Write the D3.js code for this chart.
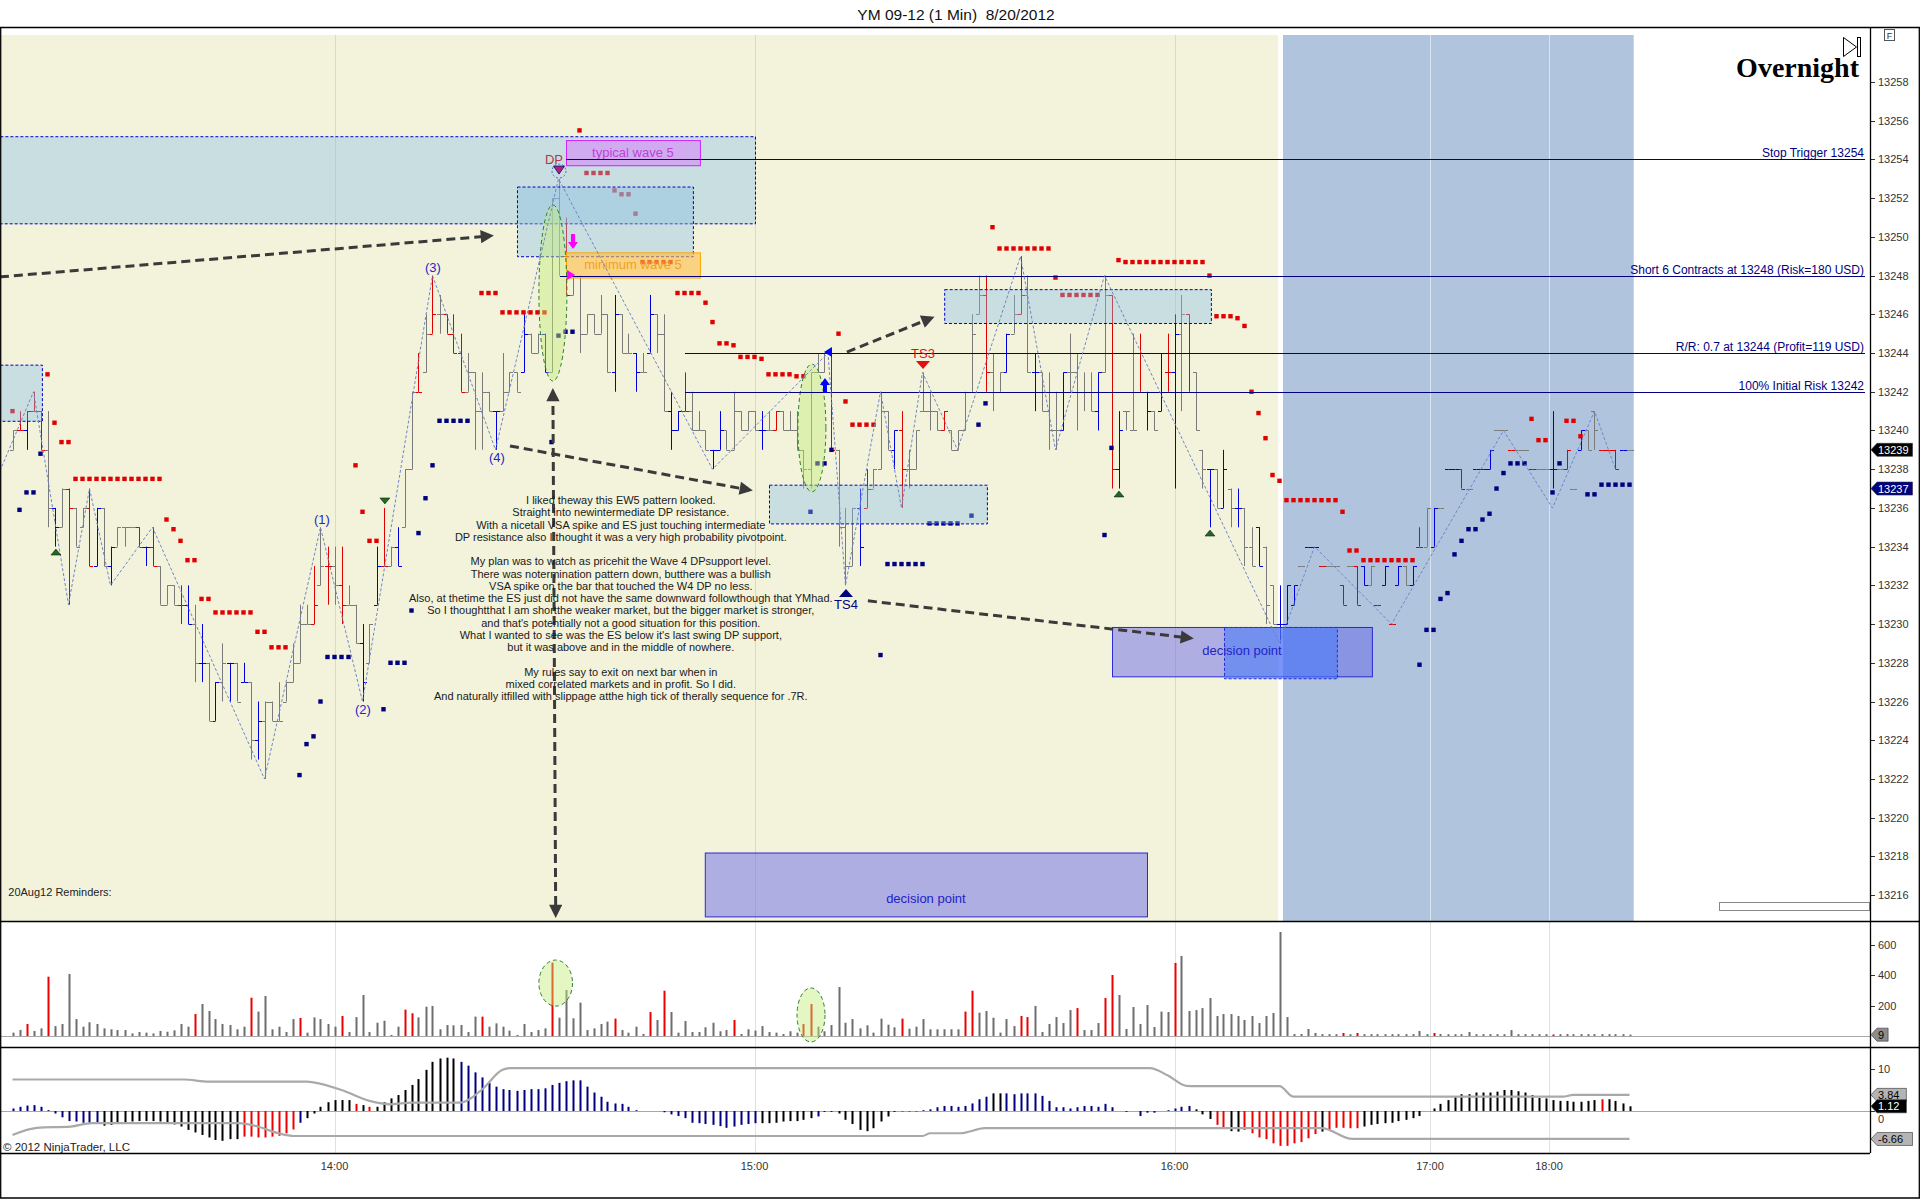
<!DOCTYPE html>
<html><head><meta charset="utf-8"><title>YM 09-12 (1 Min)</title>
<script src="https://cdn.jsdelivr.net/npm/d3@7/dist/d3.min.js"></script>
<style>html,body{margin:0;padding:0;background:#fff}svg{display:block}text{font-family:Arial,"Liberation Sans",sans-serif}</style>
</head><body><svg id="chart" width="1920" height="1199"></svg>
<script>
// ---------------- DATA ----------------
const chartTitle = "YM 09-12 (1 Min)  8/20/2012";
const barStart = -46; // bar index of first bar (0 = 14:00)
const barOpen = [
13239,13240,13240,13241,13241,13239,13236,13235,13237,13236,
13235,13236,13233,13236,13233,13234,13235,13235,13235,13234,
13234,13233,13231,13232,13231,13231,13230,13228,13228,13225,
13227,13228,13228,13227,13227,13224,13225,13226,13225,13226,
13227,13228,13230,13230,13232,13233,13233,13232,13231,13231,
13229,13228,13231,13233,13233,13234,13235,13238,13242,13243,
13245,13246,13246,13245,13244,13242,13243,13241,13242,13241,
13241,13242,13243,13243,13245,13244,13245,13243,13252,13249,
13247,13248,13245,13246,13245,13246,13243,13246,13244,13244,
13243,13244,13246,13245,13241,13240,13241,13241,13240,13240,
13239,13239,13240,13239,13241,13240,13241,13240,13240,13240,
13241,13240,13240,13239,13238,13243,13243,13244,13239,13235,
13233,13236,13236,13237,13238,13241,13239,13240,13238,13238,
13241,13241,13241,13240,13240,13239,13240,13242,13246,13247,
13243,13242,13243,13245,13246,13247,13243,13243,13241,13240,
13240,13243,13243,13242,13242,13241,13243,13247,13238,13241,
13240,13242,13242,13241,13241,13243,13243,13245,13246,13243,
13239,13238,13238,13236,13237,13236,13236,13234,13235,13234,
13232,13230,13230,13231,13233,13234,13234,13233,13233,13233,
13232,13233,13233,13233,13232,13231,13232,13230,13232,13233,
13232,13234,13234,13234,13236,13238,13238,13238,13237,13238,
13238,13238,13240,13240,13239,13239,13239,13238,13238,13238,
13238,13238,13238,13237,13239,13240,13241,13239,13239,13239,
13239,13239];
const barHigh = [
13240,13241,13241,13242,13241,13241,13236,13237,13237,13236,
13236,13237,13236,13236,13234,13235,13235,13235,13235,13234,
13235,13233,13232,13232,13232,13232,13231,13230,13228,13227,
13229,13228,13228,13228,13227,13226,13226,13226,13227,13227,
13229,13231,13231,13233,13235,13234,13234,13234,13232,13231,
13230,13230,13234,13236,13234,13235,13238,13242,13244,13246,
13248,13247,13246,13246,13245,13244,13243,13243,13242,13241,
13244,13243,13243,13246,13245,13245,13245,13252,13253,13251,
13248,13248,13246,13246,13247,13246,13247,13246,13245,13244,
13244,13247,13246,13246,13242,13241,13243,13242,13241,13240,
13239,13241,13240,13242,13241,13241,13241,13241,13241,13241,
13241,13241,13241,13239,13243,13244,13244,13244,13239,13236,
13236,13237,13238,13238,13242,13241,13240,13241,13239,13240,
13243,13242,13241,13241,13240,13240,13242,13246,13248,13248,
13244,13243,13245,13247,13249,13248,13244,13243,13243,13242,
13243,13245,13244,13243,13243,13243,13248,13247,13241,13241,
13245,13245,13242,13241,13244,13245,13246,13247,13246,13243,
13239,13238,13238,13239,13237,13237,13236,13235,13235,13234,
13232,13232,13232,13232,13233,13234,13234,13233,13233,13233,
13232,13233,13233,13233,13233,13231,13233,13230,13233,13233,
13233,13235,13236,13236,13236,13238,13238,13238,13237,13238,
13238,13239,13240,13240,13239,13239,13239,13238,13238,13238,
13241,13238,13239,13237,13240,13240,13241,13239,13239,13239,
13239,13239];
const barLow = [
13239,13240,13239,13241,13239,13235,13234,13235,13231,13234,
13235,13233,13233,13233,13232,13234,13234,13235,13234,13233,
13233,13231,13231,13231,13230,13230,13227,13227,13225,13225,
13226,13226,13226,13227,13223,13223,13222,13225,13225,13226,
13227,13228,13230,13230,13232,13231,13231,13230,13231,13229,
13226,13228,13231,13233,13233,13233,13235,13238,13242,13243,
13245,13245,13245,13244,13242,13242,13239,13239,13241,13239,
13241,13242,13242,13243,13244,13244,13243,13243,13248,13247,
13247,13244,13245,13245,13245,13243,13242,13244,13244,13242,
13243,13244,13244,13241,13239,13240,13241,13240,13240,13239,
13238,13239,13239,13239,13240,13240,13240,13239,13240,13240,
13240,13240,13239,13237,13237,13243,13243,13239,13234,13232,
13233,13233,13236,13237,13238,13239,13238,13236,13237,13238,
13241,13240,13240,13240,13239,13239,13240,13242,13246,13242,
13241,13242,13243,13245,13246,13243,13241,13241,13239,13239,
13240,13242,13240,13241,13241,13240,13243,13237,13237,13240,
13240,13242,13240,13240,13241,13242,13237,13241,13242,13240,
13237,13235,13236,13236,13235,13235,13233,13233,13233,13230,
13230,13229,13230,13231,13233,13234,13234,13233,13233,13233,
13231,13233,13231,13232,13232,13231,13232,13230,13232,13232,
13232,13234,13234,13234,13236,13238,13238,13237,13237,13238,
13238,13238,13240,13240,13239,13239,13239,13238,13238,13238,
13237,13238,13238,13237,13239,13239,13239,13239,13239,13238,
13239,13239];
const barClose = [
13240,13240,13241,13241,13239,13236,13235,13237,13236,13234,
13236,13233,13236,13233,13234,13235,13235,13235,13234,13234,
13233,13231,13232,13231,13231,13230,13228,13228,13225,13227,
13228,13228,13226,13227,13224,13225,13226,13225,13225,13227,
13228,13230,13230,13231,13233,13233,13232,13231,13231,13229,
13227,13230,13233,13233,13234,13233,13238,13242,13242,13245,
13246,13246,13245,13244,13242,13243,13241,13242,13241,13241,
13242,13243,13242,13245,13244,13245,13243,13252,13249,13247,
13248,13245,13246,13245,13246,13243,13246,13244,13244,13243,
13243,13246,13245,13241,13240,13241,13241,13240,13240,13239,
13239,13240,13239,13241,13240,13241,13240,13240,13240,13241,
13240,13240,13239,13238,13243,13243,13244,13239,13235,13233,
13236,13234,13237,13238,13241,13239,13240,13238,13238,13240,
13241,13241,13240,13241,13239,13240,13242,13245,13247,13243,
13242,13243,13245,13246,13247,13243,13243,13241,13240,13240,
13243,13243,13242,13242,13241,13243,13247,13238,13240,13241,
13240,13242,13241,13240,13242,13243,13245,13246,13242,13240,
13238,13238,13236,13238,13236,13236,13234,13233,13233,13231,
13230,13230,13232,13232,13233,13234,13234,13233,13233,13233,
13231,13233,13231,13232,13233,13231,13233,13230,13233,13232,
13233,13234,13236,13236,13236,13238,13238,13237,13237,13238,
13238,13239,13240,13240,13239,13239,13239,13238,13238,13238,
13238,13238,13239,13237,13240,13239,13240,13239,13239,13238,
13239,13239];
const barColor = ("g r b r r g b g r g g r b g b g g g r b r g g g r b g b g b " +
 "g b g b g b g g g g g g g r g r g r g g b g b r g b g g r g " +
 "r g r r r g g g g b g g g b g g b g g r g g g g g g b g g b " +
 "g b g g b b r g g g b b g g g g g b g r g g g g g g g r g g " +
 "g b r g g g b r g g g g g r g g g g g r g g b g r g b g g g " +
 "b g g g g b g r b g g r b g b r b g r g g b g b g b g g b g " +
 "g b b b g b b r g g r g r b g r b r b g b r g b g b b r g b " +
 "b b g g r g g r g g b g r g b g g r r r b g").split(" ");
const volume = [
22,40,79,33,50,389,65,79,407,111,
61,90,79,50,44,39,39,17,26,22,
17,33,28,37,79,61,144,210,164,111,
79,72,44,61,251,160,262,44,61,26,
111,118,22,122,111,79,61,131,26,124,
269,26,87,100,7,61,173,149,122,192,
197,44,72,70,72,26,127,127,61,83,
61,35,7,79,26,39,50,481,120,302,
116,219,39,50,79,94,114,39,22,61,
13,157,105,297,157,22,98,26,26,57,
87,31,39,105,13,44,35,65,26,22,
13,31,22,79,210,61,31,72,321,87,
111,50,70,22,114,74,57,114,48,61,
111,44,44,44,44,44,160,297,153,164,
120,22,111,65,131,124,197,26,79,124,
85,170,183,39,39,85,249,400,269,46,
190,79,203,59,160,157,479,525,164,170,
183,249,131,144,144,131,105,131,85,131,
151,682,124,13,13,46,20,12,12,12,
20,12,20,12,12,12,12,12,12,12,
12,33,12,20,13,12,12,12,26,12,
12,12,12,12,39,12,12,12,12,12,
10,12,13,12,12,12,12,12,12,12,
12,9];
const volumeRedIdx = [-44,-41,-20,-12,-5,1,10,11,21,31,40,45,47,57,67,68,81,90,91,98,99,106,110,111,120,144,146,157,174];
const oscValue = [
0.6,1.0,1.3,1.4,1.0,0.2,-0.6,-1.5,-2.4,-2.5,
-2.8,-2.8,-2.8,-3.5,-3.3,-2.9,-2.7,-2.5,-2.4,-2.4,
-2.4,-2.5,-2.9,-3.2,-3.7,-4.5,-5.1,-5.7,-6.3,-6.9,
-7.1,-6.7,-6.7,-6.1,-6.1,-6.3,-6.3,-6.1,-5.9,-5.3,
-4.4,-2.8,-1.7,-0.6,1.0,2.1,2.6,2.6,2.6,1.7,
1.4,1.0,1.0,2.1,3.0,3.8,5.0,6.2,7.6,9.8,
11.7,12.5,12.7,12.5,11.7,10.8,9.2,8.0,6.7,5.8,
5.2,5.0,4.8,5.0,5.2,5.2,5.4,6.2,6.7,7.1,
7.3,7.3,5.8,4.4,3.4,2.2,1.8,1.7,1.0,0.2,
0,0,0,-0.3,-0.8,-1.2,-1.7,-2.8,-2.9,-3.1,
-3.3,-3.6,-4.0,-3.7,-3.3,-3.1,-2.9,-2.9,-2.9,-2.8,
-2.5,-2.4,-2.4,-2.1,-1.7,-1.3,-0.2,-0.2,-0.6,-2.1,
-3.1,-4.5,-4.8,-4.1,-2.5,-1.3,-0.2,-0.1,-0.1,-0.1,
0.2,0.4,0.9,1.2,1.2,1.0,1.2,1.8,2.8,3.4,
4.2,4.2,4.2,4.0,4.2,4.2,4.2,3.6,2.4,0.9,
0.9,0.6,0.9,1.2,1.2,1.0,1.7,0.9,0,-0.2,
0,-1.2,-0.4,-0.4,0,0.2,0.6,1.0,1.2,0.4,
-0.8,-1.9,-3.3,-4.1,-4.8,-4.9,-4.5,-5.3,-6.3,-6.7,
-7.7,-8.3,-8.3,-7.7,-7.4,-6.5,-5.5,-4.9,-4.4,-4.0,
-4.0,-4.1,-4.1,-3.7,-3.3,-3.1,-2.9,-2.8,-2.4,-2.1,
-1.7,-1.2,0,0.6,1.7,2.6,3.4,4.0,4.0,4.4,
4.4,4.4,4.6,5.0,5.0,4.7,4.4,3.8,3.1,3.0,
2.6,2.4,2.4,2.2,2.2,2.4,2.6,2.8,2.8,2.4,
1.8,1.12];
const oscColorRuns = [[-46,-42,'b'],[-41,-41,'k'],[-40,-34,'b'],[-33,-14,'k'],[-13,-6,'r'],[-5,-5,'b'],[-4,2,'k'],[3,3,'r'],[4,4,'k'],[5,5,'r'],[6,17,'k'],[18,60,'b'],[61,68,'k'],[69,69,'b'],[70,83,'k'],[84,93,'b'],[94,95,'k'],[96,122,'b'],[123,125,'k'],[126,127,'r'],[128,129,'k'],[130,140,'r'],[141,141,'k'],[142,146,'r'],[147,180,'k'],[181,181,'r'],[182,185,'k']];
const bandUpper = [[-46,7.5],[-21.5,7.5],[-18,7.0],[-4,7.0],[1,5.0],[5,2.4],[8,1.6],[11,2.0],[18,2.0],[21,5.0],[24,9.8],[25,10.2],[116.5,10.2],[119,8.5],[121.7,6.0],[123,5.9],[135,5.9],[137,3.4],[175.5,3.4],[177,3.84],[185,3.84]];
const bandLower = [[-46,-5.7],[-42.5,-4.0],[-37.7,-3.7],[-34.7,-2.9],[-13.7,-2.9],[-11,-3.7],[-8,-5.3],[-5.8,-5.95],[84,-5.95],[85.1,-5.3],[89.4,-5.3],[92.9,-4.1],[141,-4.1],[145.4,-6.66],[185,-6.66]];
const timeTickIdx = [0,60,120,156.5,173.5];
const timeTickLbl = ["14:00","15:00","16:00","17:00","18:00"];
const priceTicks = [13216,13218,13220,13222,13224,13226,13228,13230,13232,13234,13236,13238,13240,13242,13244,13246,13248,13250,13252,13254,13256,13258];
const volTicks = [200,400,600];
const oscTicks = [0,10];
const sessionDay = [-47.8,134.8];
const sessionNight = [135.5,185.6];
const zigzag = [[-47.8,13237.9],[-43,13242],[-38,13231],[-35,13237],[-32,13232],[-26,13235],[-10,13222],[-2,13235],[4,13226],[14,13248],[23,13239],[32,13253],[54,13238],[70.5,13244],[73,13232],[78,13242],[81,13236],[84,13243],[89,13239],[98,13249],[103,13239],[110,13248],[135,13229],[140,13234],[151,13230],[167,13240],[174,13236],[180,13241],[183,13238]];
const redDotRuns = [[-46,-46,13241.0],[-41,-41,13242.9],[-40,-40,13240.4],[-39,-38,13239.4],[-37,-25,13237.5],[-24,-24,13235.4],[-23,-23,13234.9],[-22,-22,13234.3],[-21,-20,13233.3],[-19,-18,13231.3],[-17,-12,13230.6],[-11,-10,13229.6],[-9,-7,13228.8],[3,3,13238.2],[4,4,13235.8],[5,6,13234.3],[21,23,13247.1],[24,30,13246.1],[35,35,13255.5],[36,39,13253.3],[40,40,13252.4],[41,42,13252.2],[43,43,13251.2],[44,48,13248.7],[49,52,13247.1],[53,53,13246.6],[54,54,13245.6],[55,56,13244.5],[57,57,13244.4],[58,60,13243.8],[61,61,13243.7],[62,65,13242.9],[66,67,13242.8],[72,72,13245.0],[73,73,13241.5],[74,77,13240.3],[94,94,13250.5],[95,102,13249.4],[103,103,13247.9],[104,109,13247.0],[112,112,13248.8],[113,124,13248.7],[125,125,13248.0],[126,128,13245.9],[129,129,13245.8],[130,130,13245.4],[131,131,13242.0],[132,132,13240.9],[133,133,13239.6],[134,134,13237.7],[135,135,13237.4],[136,143,13236.4],[144,144,13235.8],[145,146,13233.8],[147,154,13233.3],[171,171,13240.6],[172,173,13239.5],[176,177,13240.5],[178,178,13239.7]];
const navyDotRuns = [[-45,-45,13235.9],[-44,-43,13236.8],[-42,-42,13238.8],[-5,-5,13222.2],[-4,-4,13223.8],[-3,-3,13224.2],[-2,-2,13226.0],[-1,2,13228.3],[7,7,13225.6],[8,10,13228.0],[11,11,13230.7],[12,12,13234.7],[13,13,13236.5],[14,14,13238.2],[15,19,13240.5],[31,31,13239.4],[32,32,13244.9],[33,34,13245.1],[68,68,13235.8],[69,70,13238.3],[71,71,13239.0],[78,78,13228.4],[79,84,13233.1],[85,89,13235.2],[91,91,13235.6],[92,92,13240.3],[93,93,13241.4],[110,110,13234.6],[111,111,13239.1],[155,155,13227.9],[156,157,13229.7],[158,158,13231.3],[159,159,13231.6],[160,160,13233.6],[161,161,13234.3],[162,163,13234.9],[164,164,13235.4],[165,165,13235.7],[166,166,13237.0],[167,167,13237.8],[168,170,13238.3],[174,174,13236.8],[175,175,13238.3],[179,180,13236.7],[181,185,13237.2]];
// drawn objects, in (bar index, price) coordinates
const lightZones = [[-47.8,60.07,13255.2,13250.7],[26.07,51.2,13252.6,13249.0],[-47.8,-41.8,13243.4,13240.5],[62.07,93.2,13237.2,13235.2],[87.1,125.2,13247.3,13245.55]];
const waveBoxes = [{i1:33.07,i2:52.2,p1:13255.0,p2:13253.7,text:"typical wave 5",kind:"typical"},{i1:33.07,i2:52.2,p1:13249.2,p2:13247.9,text:"minimum wave 5",kind:"minimum"}];
const decisionZones = [{i1:52.9,i2:116.07,p1:13218.2,p2:13214.9,textP:13215.8,text:"decision point"},{i1:111.07,i2:148.2,p1:13229.85,p2:13227.3,textP:13228.66,text:"decision point"}];
const decisionDashed = [127.07,143.2,13229.85,13227.2];
const levelLines = [{p:13254,i1:33.07,text:"Stop Trigger 13254"},{p:13248,i1:32.2,text:"Short 6 Contracts at 13248 (Risk=180 USD)"},{p:13244,i1:50.07,text:"R/R: 0.7 at 13244 (Profit=119 USD)"},{p:13242,i1:50.07,text:"100% Initial Risk 13242"}];
const dashArrows = [[[-47.8,13247.93],[22.2,13250.05]],[[25.07,13239.2],[59.2,13236.93]],[[73.2,13244.05],[85.2,13245.8]],[[76.2,13231.2],[122.2,13229.28]]];
const doubleArrows = [[[31.2,13241.99],[31.6,13215.02]]];
const priceEllipses = [[31.2,13247.1,2.0,4.55],[68.2,13240.13,2.0,3.3]];
const volumeEllipses = [[31.6,347,2.4,151],[68.07,138,2.0,177]];
const waveLabels = [["(1)",-1.8,13235.4],["(2)",4.07,13225.6],["(3)",14.07,13248.4],["(4)",23.2,13238.6]];
const tsMarkers = [{text:"TS3",i:84.07,p:13243.38,dir:"down"},{text:"TS4",i:73.07,p:13231.6,dir:"up"}];
const dpMarker = {text:"DP",i:32.07,p:13253.45};
const swingTriangles = [[7.2,13236.36,"down"],[-39.8,13233.72,"up"],[112.07,13236.72,"up"],[125.07,13234.7,"up"]];
const tradeArrows = [[34.07,13249.74,"down","entry"],[33.8,13248.03,"right","entry"],[70.07,13242.35,"up","exit"],[70.5,13244.05,"left","exit"]];
const priceTags = [[13239,"last"],[13237,"stop"]];
const volumeTags = [[9,"vol"]];
const oscTags = [[3.84,"band"],[1.12,"last"],[-6.66,"band"]];
const reminderLabel = {text:"20Aug12 Reminders:",i:-46.6,p:13215.95};
const commentAnchor = [40.9,13236.2];
const commentLines = [
"I liked theway this EW5 pattern looked.",
"Straight into newintermediate DP resistance.",
"With a nicetall VSA spike and ES just touching intermediate",
"DP resistance also I thought it was a very high probability pivotpoint.",
"",
"My plan was to watch as pricehit the Wave 4 DPsupport level.",
"There was notermination pattern down, butthere was a bullish",
"VSA spike on the bar that touched the W4 DP no less.",
"Also, at thetime the ES just did not have the same downward followthough that YMhad.",
"So I thoughtthat I am shortthe weaker market, but the bigger market is stronger,",
"and that's potentially not a good situation for this position.",
"What I wanted to see was the ES below it's last swing DP support,",
"but it was above and in the middle of nowhere.",
"",
"My rules say to exit on next bar when in",
"mixed correlated markets and in profit. So I did.",
"And naturally itfilled with slippage atthe high tick of therally sequence for .7R."];
const sessionLabel = "Overnight";
const copyright = "\u00A9 2012 NinjaTrader, LLC";

// ---------------- LAYOUT ----------------
const AXX = 1870, PT = 27, PY0 = 35, PB = 921, VB = 1047, IB = 1153;
const svg = d3.select('#chart');
const x = d3.scaleLinear().domain([-46,185]).range([12.5,1629.5]);
const yP = d3.scaleLinear().domain([13216,13258]).range([895.1,82]);
const yV = d3.scaleLinear().domain([0,600]).range([1036,944.5]);
const yI = d3.scaleLinear().domain([-10,10]).range([1153,1069]);
const px = i => Math.round(x(i)) + 0.5;
const py = p => Math.round(yP(p)) + 0.5;
const BAR = {g:'#7a7a7a', r:'#e00000', b:'#0000dd'};
const OSC = {b:'#000080', k:'#000000', r:'#ee0000'};
const expand = runs => runs.flatMap(([s,e,v]) => d3.range(s, e + 1).map(i => [i, v]));

svg.append('rect').attr('width',1920).attr('height',1199).attr('fill','#fff');
svg.append('text').attr('x',956).attr('y',20).attr('text-anchor','middle').attr('font-size',15.5).attr('fill','#111').style('white-space','pre').text(chartTitle);

const defs = svg.append('defs');
defs.append('clipPath').attr('id','clipP').append('rect').attr('x',1).attr('y',PT+1).attr('width',AXX-1).attr('height',PB-PT-1);
defs.append('clipPath').attr('id','clipV').append('rect').attr('x',1).attr('y',PB+1).attr('width',AXX-1).attr('height',VB-PB-1);
defs.append('clipPath').attr('id','clipI').append('rect').attr('x',1).attr('y',VB+1).attr('width',AXX-1).attr('height',IB-VB-1);
defs.append('marker').attr('id','ah').attr('viewBox','0 0 10 10').attr('refX',7).attr('refY',5)
  .attr('markerWidth',5.5).attr('markerHeight',4.4).attr('orient','auto-start-reverse')
  .append('path').attr('d','M0,0L10,5L0,10z').attr('fill','#3a3a3a');

// ---------------- PRICE PANEL ----------------
const gp = svg.append('g').attr('clip-path','url(#clipP)');
gp.append('rect').attr('x',x(sessionDay[0])).attr('y',PY0).attr('width',x(sessionDay[1])-x(sessionDay[0])).attr('height',PB-PY0).attr('fill','#f3f3dc');
gp.append('rect').attr('x',x(sessionNight[0])).attr('y',PY0).attr('width',x(sessionNight[1])-x(sessionNight[0])).attr('height',PB-PY0).attr('fill','#b0c4de');
timeTickIdx.forEach(t => {
  gp.append('line').attr('x1',px(t)).attr('x2',px(t)).attr('y1',PY0).attr('y2',PB)
    .attr('stroke', t > sessionDay[1] ? '#dbe3ee' : '#d9d9cf').attr('stroke-width',1);
});

// price bars (OHLC)
const bars = barOpen.map((o,k) => ({i:barStart+k,o,h:barHigh[k],l:barLow[k],c:barClose[k],col:barColor[k]}));
const gb = gp.append('g').attr('stroke-width',1);
gb.selectAll('line.v').data(bars.filter(d => d.h > d.l)).join('line').attr('class','v')
  .attr('x1',d=>px(d.i)).attr('x2',d=>px(d.i)).attr('y1',d=>yP(d.h)).attr('y2',d=>yP(d.l)).attr('stroke',d=>BAR[d.col]);
gb.selectAll('line.o').data(bars).join('line').attr('class','o')
  .attr('x1',d=>px(d.i)-3.5).attr('x2',d=>px(d.i)).attr('y1',d=>py(d.o)).attr('y2',d=>py(d.o)).attr('stroke',d=>BAR[d.col]);
gb.selectAll('line.c').data(bars).join('line').attr('class','c')
  .attr('x1',d=>px(d.i)).attr('x2',d=>px(d.i)+3.5).attr('y1',d=>py(d.c)).attr('y2',d=>py(d.c)).attr('stroke',d=>BAR[d.col]);

// dot series
gp.append('g').selectAll('rect').data(expand(redDotRuns)).join('rect')
  .attr('x',d=>x(d[0])-2.2).attr('y',d=>yP(d[1])-2.2).attr('width',4.4).attr('height',4.4).attr('fill','#e00000');
gp.append('g').selectAll('rect').data(expand(navyDotRuns)).join('rect')
  .attr('x',d=>x(d[0])-2.2).attr('y',d=>yP(d[1])-2.2).attr('width',4.4).attr('height',4.4).attr('fill','#000080');

// light blue zones
lightZones.forEach(([i1,i2,p1,p2]) => {
  gp.append('rect').attr('x',x(i1)+0.5).attr('y',yP(p1)+0.5).attr('width',x(i2)-x(i1)).attr('height',yP(p2)-yP(p1))
    .attr('fill','rgba(135,190,230,0.4)').attr('stroke','#0000cc').attr('stroke-dasharray','3,2').attr('stroke-width',1);
});
// wave target boxes
waveBoxes.forEach(b => {
  const st = b.kind === 'typical' ? {f:'rgba(215,120,255,0.5)',s:'#cc22ff',t:'#c040d8'} : {f:'rgba(255,190,70,0.6)',s:'#ffa500',t:'#f0a028'};
  gp.append('rect').attr('x',x(b.i1)+0.5).attr('y',yP(b.p1)+0.5).attr('width',x(b.i2)-x(b.i1)).attr('height',yP(b.p2)-yP(b.p1))
    .attr('fill',st.f).attr('stroke',st.s).attr('stroke-width',1);
  gp.append('text').attr('x',(x(b.i1)+x(b.i2))/2).attr('y',(yP(b.p1)+yP(b.p2))/2+4.5).attr('text-anchor','middle')
    .attr('font-size',13).attr('fill',st.t).text(b.text);
});
// decision zones
decisionZones.forEach(b => {
  gp.append('rect').attr('x',x(b.i1)+0.5).attr('y',yP(b.p1)+0.5).attr('width',x(b.i2)-x(b.i1)).attr('height',yP(b.p2)-yP(b.p1))
    .attr('fill','rgba(90,90,232,0.45)').attr('stroke','#2a2ad8').attr('stroke-width',1);
});
{
  const [i1,i2,p1,p2] = decisionDashed;
  gp.append('rect').attr('x',x(i1)+0.5).attr('y',yP(p1)+0.5).attr('width',x(i2)-x(i1)).attr('height',yP(p2)-yP(p1))
    .attr('fill','rgba(70,120,250,0.55)').attr('stroke','#2a2ad8').attr('stroke-dasharray','3,2').attr('stroke-width',1);
}
decisionZones.forEach(b => {
  gp.append('text').attr('x',(x(b.i1)+x(b.i2))/2).attr('y',yP(b.textP)+4.5).attr('text-anchor','middle')
    .attr('font-size',13).attr('fill','#2323c8').text(b.text);
});

// green ellipses
priceEllipses.forEach(([ci,cp,ri,rp]) => {
  gp.append('ellipse').attr('cx',x(ci)).attr('cy',yP(cp)).attr('rx',x(ci+ri)-x(ci)).attr('ry',yP(cp-rp)-yP(cp))
    .attr('fill','rgba(195,238,120,0.45)').attr('stroke','#2e7d32').attr('stroke-dasharray','4,3').attr('stroke-width',1);
});

// level lines with labels
levelLines.forEach(l => {
  gp.append('line').attr('x1',x(l.i1)).attr('x2',AXX-5).attr('y1',py(l.p)).attr('y2',py(l.p)).attr('stroke','#000080').attr('stroke-width',1.2);
  gp.append('text').attr('x',AXX-6).attr('y',py(l.p)-3).attr('text-anchor','end').attr('font-size',12).attr('fill','#000080').text(l.text);
});

// zigzag
gp.append('path').datum(zigzag).attr('d',d3.line().x(d=>x(d[0])).y(d=>yP(d[1])))
  .attr('fill','none').attr('stroke','#6f86c6').attr('stroke-width',1).attr('stroke-dasharray','3,2');

// dashed arrows
dashArrows.forEach(([a,b]) => {
  gp.append('line').attr('x1',x(a[0])).attr('y1',yP(a[1])).attr('x2',x(b[0])).attr('y2',yP(b[1]))
    .attr('stroke','#3a3a3a').attr('stroke-width',3).attr('stroke-dasharray','9,5').attr('marker-end','url(#ah)');
});
doubleArrows.forEach(([a,b]) => {
  gp.append('line').attr('x1',x(a[0])).attr('y1',yP(a[1])).attr('x2',x(b[0])).attr('y2',yP(b[1]))
    .attr('stroke','#3a3a3a').attr('stroke-width',3).attr('stroke-dasharray','9,5').attr('marker-end','url(#ah)').attr('marker-start','url(#ah)');
});

// wave labels
waveLabels.forEach(([t,i,p]) => {
  gp.append('text').attr('x',x(i)).attr('y',yP(p)+4.5).attr('text-anchor','middle').attr('font-size',13).attr('fill','#2626c4').text(t);
});

// triangles helper
function tri(cx, cy, dir, w, h) {
  return dir === 'down' ? `M${cx-w/2},${cy-h/2}L${cx+w/2},${cy-h/2}L${cx},${cy+h/2}Z` : `M${cx-w/2},${cy+h/2}L${cx+w/2},${cy+h/2}L${cx},${cy-h/2}Z`;
}
tsMarkers.forEach(m => {
  const cx = x(m.i), cy = yP(m.p);
  const col = m.dir === 'down' ? '#e01010' : '#000080';
  gp.append('path').attr('d',tri(cx,cy,m.dir,14,8)).attr('fill',col);
  gp.append('text').attr('x',cx).attr('y', m.dir === 'down' ? cy-7 : cy+16).attr('text-anchor','middle').attr('font-size',13).attr('fill',col).text(m.text);
});
{
  const cx = x(dpMarker.i), cy = yP(dpMarker.p);
  gp.append('circle').attr('cx',cx).attr('cy',cy+1).attr('r',7).attr('fill','none').attr('stroke','#4a66cc').attr('stroke-dasharray','2,2');
  gp.append('path').attr('d',tri(cx,cy,'down',11,8)).attr('fill','#b8206a').attr('stroke','#202090').attr('stroke-width',1);
  gp.append('text').attr('x',cx-5).attr('y',cy-6).attr('text-anchor','middle').attr('font-size',13).attr('fill','#b03848').text(dpMarker.text);
}
swingTriangles.forEach(([i,p,dir]) => {
  gp.append('path').attr('d',tri(x(i),yP(p),dir,10,6)).attr('fill','#1f6a1f').attr('stroke','#111').attr('stroke-width',0.5);
});
tradeArrows.forEach(([i,p,dir,kind]) => {
  const cx = x(i), cy = yP(p), col = kind === 'entry' ? '#ff00ff' : '#0000ff';
  let d;
  if (dir === 'down') d = `M${cx-2},${cy-8}h4v8h3l-5,7l-5,-7h3z`;
  else if (dir === 'up') d = `M${cx-2},${cy+8}h4v-8h3l-5,-7l-5,7h3z`;
  else if (dir === 'right') d = `M${cx-4},${cy-5}L${cx+4},${cy}L${cx-4},${cy+5}Z`;
  else d = `M${cx+4},${cy-5}L${cx-4},${cy}L${cx+4},${cy+5}Z`;
  gp.append('path').attr('d',d).attr('fill',col);
});

// comment text
{
  const cx = x(commentAnchor[0]), y0 = yP(commentAnchor[1]);
  commentLines.forEach((t,k) => {
    if (!t) return;
    gp.append('text').attr('x',cx).attr('y',y0 + k*12.25).attr('text-anchor','middle').attr('font-size',11).attr('fill','#1a1a1a').text(t);
  });
}
gp.append('text').attr('x',x(reminderLabel.i)).attr('y',yP(reminderLabel.p)).attr('font-size',11).attr('fill','#222').text(reminderLabel.text);

// overnight label & icons (chart furniture)
svg.append('text').attr('x',1859).attr('y',77).attr('text-anchor','end').attr('font-size',28).attr('font-weight','bold')
  .style('font-family','"Liberation Serif","Times New Roman",serif').attr('fill','#000').text(sessionLabel);
svg.append('path').attr('d','M1843.5,37.5L1856.5,47L1843.5,56.5Z').attr('fill','none').attr('stroke','#000');
svg.append('rect').attr('x',1857.5).attr('y',37.5).attr('width',3).attr('height',19).attr('fill','none').attr('stroke','#000');
svg.append('rect').attr('x',1884.5).attr('y',29.5).attr('width',10).attr('height',11).attr('fill','#fff').attr('stroke','#555');
svg.append('text').attr('x',1889.5).attr('y',38.5).attr('text-anchor','middle').attr('font-size',9).attr('fill','#333').text('F');
svg.append('rect').attr('x',1719.5).attr('y',902.5).attr('width',150).attr('height',8).attr('fill','#fff').attr('stroke','#888');

// ---------------- VOLUME PANEL ----------------
const gv = svg.append('g').attr('clip-path','url(#clipV)');
timeTickIdx.forEach(t => gv.append('line').attr('x1',px(t)).attr('x2',px(t)).attr('y1',PB).attr('y2',VB).attr('stroke','#e0e0e0'));
gv.append('line').attr('x1',0).attr('x2',AXX).attr('y1',Math.round(yV(0))+0.5).attr('y2',Math.round(yV(0))+0.5).attr('stroke','#a8a8a8');
const redSet = new Set(volumeRedIdx);
gv.selectAll('rect.vb').data(volume.map((v,k)=>({i:barStart+k,v}))).join('rect').attr('class','vb')
  .attr('x',d=>Math.round(x(d.i))-0.5).attr('width',2).attr('y',d=>yV(d.v)).attr('height',d=>yV(0)-yV(d.v))
  .attr('fill',d=>redSet.has(d.i)?'#ee0000':'#6e6e6e');
volumeEllipses.forEach(([ci,cv,ri,rv]) => {
  gv.append('ellipse').attr('cx',x(ci)).attr('cy',yV(cv)).attr('rx',x(ci+ri)-x(ci)).attr('ry',yV(cv-rv)-yV(cv))
    .attr('fill','rgba(195,238,120,0.45)').attr('stroke','#2e7d32').attr('stroke-dasharray','4,3');
});

// ---------------- OSCILLATOR PANEL ----------------
const gi = svg.append('g').attr('clip-path','url(#clipI)');
timeTickIdx.forEach(t => gi.append('line').attr('x1',px(t)).attr('x2',px(t)).attr('y1',VB).attr('y2',IB).attr('stroke','#e0e0e0'));
gi.append('line').attr('x1',0).attr('x2',AXX).attr('y1',Math.round(yI(0))+0.5).attr('y2',Math.round(yI(0))+0.5).attr('stroke','#a8a8a8');
const oscCol = new Map(expand(oscColorRuns));
gi.selectAll('rect.ob').data(oscValue.map((v,k)=>({i:barStart+k,v})).filter(d=>d.v!==0)).join('rect').attr('class','ob')
  .attr('x',d=>Math.round(x(d.i))-0.5).attr('width',2)
  .attr('y',d=>Math.min(yI(d.v),yI(0))).attr('height',d=>Math.abs(yI(d.v)-yI(0)))
  .attr('fill',d=>OSC[oscCol.get(d.i)]);
const bandLine = d3.line().x(d=>x(d[0])).y(d=>yI(d[1])).curve(d3.curveMonotoneX);
[bandUpper, bandLower].forEach(b => gi.append('path').datum(b).attr('d',bandLine).attr('fill','none').attr('stroke','#a9a9a9').attr('stroke-width',2.2));
svg.append('text').attr('x',3).attr('y',1151).attr('font-size',11.5).attr('fill','#222').text(copyright);

// ---------------- AXES ----------------
const axisText = (y, t) => svg.append('text').attr('x',AXX+8).attr('y',y+4).attr('font-size',11).attr('fill','#333').text(t);
priceTicks.forEach(t => { svg.append('line').attr('x1',AXX).attr('x2',AXX+5).attr('y1',py(t)).attr('y2',py(t)).attr('stroke','#333'); axisText(yP(t), t); });
volTicks.forEach(t => { const y = Math.round(yV(t))+0.5; svg.append('line').attr('x1',AXX).attr('x2',AXX+5).attr('y1',y).attr('y2',y).attr('stroke','#333'); axisText(yV(t), t); });
oscTicks.forEach(t => {
  const y = Math.round(yI(t))+0.5;
  svg.append('line').attr('x1',AXX).attr('x2',AXX+5).attr('y1',y).attr('y2',y).attr('stroke','#333');
  // the zero label sits just under the last-value tag so both stay readable
  axisText(t === 0 ? yI(t) + 8 : yI(t), t);
});
timeTickIdx.forEach((t,k) => svg.append('text').attr('x',x(t)).attr('y',1170).attr('text-anchor','middle').attr('font-size',11).attr('fill','#333').text(timeTickLbl[k]));

// value tags
const TAG = {last:['#000000','#ffffff'], stop:['#000080','#ffffff'], vol:['#8c8c8c','#000000'], band:['#b4b4b4','#000000']};
function tag(y, text, kind) {
  const [f,tc] = TAG[kind];
  const w = text.length*6.1 + 5;
  svg.append('path').attr('d',`M${AXX+1},${y}L${AXX+7},${y-6.5}H${AXX+7+w}V${y+6.5}H${AXX+7}Z`).attr('fill',f).attr('stroke','#333').attr('stroke-width',0.6);
  svg.append('text').attr('x',AXX+8).attr('y',y+4).attr('font-size',11).attr('fill',tc).text(text);
}
priceTags.forEach(([v,k]) => tag(yP(v), String(v), k));
volumeTags.forEach(([v,k]) => tag(yV(v), String(v), k));
oscTags.forEach(([v,k]) => tag(yI(v), v.toFixed(2), k));

// ---------------- BORDERS ----------------
const B = svg.append('g').attr('stroke','#000').attr('stroke-width',1.3);
[[0,PT+0.5,1920,PT+0.5],[0,PB+0.5,1920,PB+0.5],[0,VB+0.5,1920,VB+0.5],[0,IB+0.5,AXX,IB+0.5],[0,1198,1920,1198],
 [0.7,PT,0.7,1198],[AXX+0.5,PT,AXX+0.5,IB],[1919.3,PT,1919.3,1198]].forEach(([a,b,c,d]) =>
  B.append('line').attr('x1',a).attr('y1',b).attr('x2',c).attr('y2',d));
</script></body></html>
